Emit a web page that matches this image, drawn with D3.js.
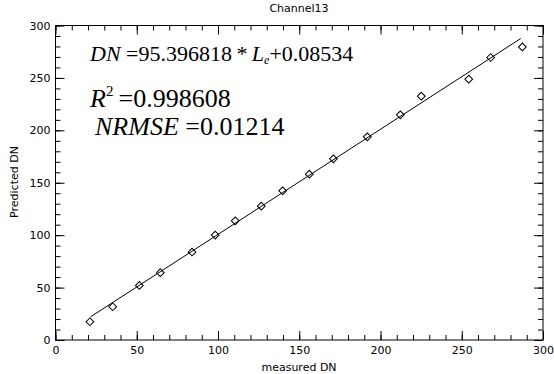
<!DOCTYPE html>
<html>
<head>
<meta charset="utf-8">
<script src="https://cdn.jsdelivr.net/npm/d3@7"></script>
<style>
  body { margin: 0; background: #fff; }
  svg { display: block; }
  .tick text { font-family: "DejaVu Sans", sans-serif; font-size: 11px; }
</style>
</head>
<body>
<figure id="chart" style="margin:0"></figure>
<script>
// measured vs predicted DN
const measured = [21.2, 35.2, 51.6, 64.5, 84.0, 98.3, 110.6, 126.6, 139.8, 156.2,
                  171.0, 191.9, 212.2, 225.1, 254.3, 267.8, 287.3];
const predicted = [17.4, 31.7, 52.1, 64.2, 83.9, 100.1, 113.7, 127.7, 142.3, 158.2,
                   172.8, 193.8, 214.8, 232.6, 248.8, 269.5, 279.6];
// fit line end points
const fitX = [21.7, 286.3];
const fitY = [22.2, 287.6];
const xTicks = [0, 50, 100, 150, 200, 250, 300];
const yTicks = [0, 50, 100, 150, 200, 250, 300];

const width = 554, height = 374;
const margin = {left: 55.5, right: 11, top: 25.5, bottom: 34};

const svg = d3.select("figure#chart")
  .append("svg")
  .attr("width", width)
  .attr("height", height);

const x = d3.scaleLinear().domain([0, 300]).range([margin.left, width - margin.right]);
const y = d3.scaleLinear().domain([0, 300]).range([height - margin.bottom, margin.top]);

const minorX = d3.range(0, 301, 10);
const minorY = d3.range(0, 301, 10);

// axes, IDL style: ticks inward, mirrored on top / right
function axis(gen, ticks, minor, transform, pad) {
  const g = svg.append("g").attr("transform", transform);
  g.call(gen.tickValues(minor).tickSize(-5).tickFormat(""));
  g.selectAll(".domain").remove();
  const g2 = svg.append("g").attr("transform", transform);
  g2.call(gen.tickValues(ticks).tickSize(-9).tickPadding(pad || 0)
    .tickFormat(pad ? d3.format("d") : ""));
  g2.selectAll(".domain").remove();
  svg.selectAll(".tick line").attr("stroke", "#000");
  return g2;
}

const xb = axis(d3.axisBottom(x), xTicks, minorX, `translate(0,${y(0)})`, 6);
xb.selectAll("text").attr("dy", "0.71em").attr("fill", "#000");
axis(d3.axisTop(x), xTicks, minorX, `translate(0,${y(300)})`, 0);
const yl = axis(d3.axisLeft(y), yTicks, minorY, `translate(${x(0)},0)`, 5);
yl.selectAll("text").attr("fill", "#000").attr("dy", "0.32em");
axis(d3.axisRight(y), yTicks, minorY, `translate(${x(300)},0)`, 0);

// frame
svg.append("rect")
  .attr("x", x(0)).attr("y", y(300))
  .attr("width", x(300) - x(0)).attr("height", y(0) - y(300))
  .attr("fill", "none").attr("stroke", "#000").attr("stroke-width", 1);

// fit line
svg.append("path")
  .datum(d3.zip(fitX, fitY))
  .attr("fill", "none").attr("stroke", "#000").attr("stroke-width", 1)
  .attr("d", d3.line().x(d => x(d[0])).y(d => y(d[1])));

// diamonds
svg.selectAll("path.pt")
  .data(d3.zip(measured, predicted))
  .enter()
  .append("path")
  .attr("class", "pt")
  .attr("d", d3.symbol(d3.symbolSquare, 30))
  .attr("transform", d => `translate(${x(d[0])},${y(d[1])}) rotate(45)`)
  .attr("fill", "none").attr("stroke", "#000").attr("stroke-width", 1);

// titles
const lab = {"font-family": "DejaVu Sans, sans-serif", "font-size": "11px", "fill": "#000", "text-anchor": "middle"};
function label(txt, px, py, rot) {
  const t = svg.append("text").text(txt).attr("x", px).attr("y", py);
  Object.entries(lab).forEach(([k, v]) => t.attr(k, v));
  if (rot) t.attr("transform", `rotate(-90,${px},${py})`);
  return t;
}
label("Channel13", 299, 12);
label("measured DN", 299, 371);
label("Predicted DN", 18, 182, true);

// annotations
const serif = "Liberation Serif, Times New Roman, serif";
const t1 = svg.append("text").attr("x", 90).attr("y", 61)
  .attr("font-family", serif).attr("font-size", 22).attr("fill", "#000");
t1.append("tspan").attr("font-style", "italic").text("DN");
t1.append("tspan").text(" =95.396818");
t1.append("tspan").text("\u2009*\u2009");
t1.append("tspan").attr("font-style", "italic").text("L");
t1.append("tspan").attr("font-style", "italic").attr("font-size", 12).attr("dy", 3).text("e");
t1.append("tspan").attr("dy", -3).text("+0.08534");

const t2 = svg.append("text").attr("x", 90).attr("y", 107)
  .attr("font-family", serif).attr("font-size", 26).attr("fill", "#000");
t2.append("tspan").attr("font-style", "italic").text("R");
t2.append("tspan").attr("font-size", 15).attr("dy", -11).text("2");
t2.append("tspan").attr("dy", 11).text("\u2009=0.998608");

const t3 = svg.append("text").attr("x", 95).attr("y", 135)
  .attr("font-family", serif).attr("font-size", 26).attr("fill", "#000");
t3.append("tspan").attr("font-style", "italic").text("NRMSE");
t3.append("tspan").text(" =0.01214");
</script>
</body>
</html>
